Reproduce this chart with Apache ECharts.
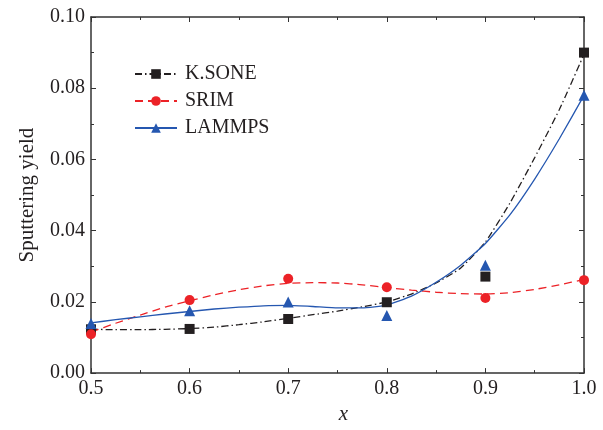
<!DOCTYPE html>
<html>
<head>
<meta charset="utf-8">
<script src="https://cdn.jsdelivr.net/npm/echarts@6/dist/echarts.min.js"></script>
<style>
  html, body { margin: 0; padding: 0; background: #fff; }
  #chart { width: 603px; height: 430px; }
</style>
</head>
<body>
<div id="chart"></div>
<script>
// measured points
var xs = [0.5, 0.6, 0.7, 0.8, 0.9, 1.0];
var ksone = [0.0123, 0.0124, 0.0152, 0.0199, 0.0271, 0.0900];
var srim = [0.0109, 0.0205, 0.0265, 0.0241, 0.0211, 0.0261];
var lammps = [0.0139, 0.0175, 0.0200, 0.0162, 0.0303, 0.0780];

// fitted curves
var curveX = [0.5, 0.525, 0.55, 0.575, 0.6, 0.625, 0.65, 0.675, 0.7, 0.725, 0.75,
              0.775, 0.8, 0.825, 0.85, 0.875, 0.9, 0.925, 0.95, 0.975, 1.0];
var ksoneFit = [0.0123, 0.0122, 0.0122, 0.0123, 0.0125, 0.0129, 0.0136, 0.0144, 0.0154, 0.0164, 0.0174,
                0.0186, 0.0200, 0.0222, 0.0253, 0.0295, 0.0368, 0.0478, 0.0605, 0.0740, 0.0895];
var srimFit = [0.0115, 0.0140, 0.0163, 0.0185, 0.0203, 0.0220, 0.0234, 0.0245, 0.0252, 0.0254, 0.0253,
               0.0248, 0.0240, 0.0233, 0.0227, 0.0223, 0.0222, 0.0226, 0.0235, 0.0248, 0.0263];
var lammpsFit = [0.0141, 0.0150, 0.0158, 0.0166, 0.0173, 0.0180, 0.0185, 0.0189, 0.0190, 0.0187, 0.0183,
                 0.0183, 0.0191, 0.0216, 0.0255, 0.0303, 0.0364, 0.0445, 0.0545, 0.0658, 0.0780];

var BLACK = '#231f20', RED = '#ec2227', BLUE = '#2557b0';
var FONT = 'Liberation Serif';

function pairs(x, y) {
    return x.map(function (v, i) { return [v, y[i]]; });
}

var myChart = echarts.init(document.getElementById('chart'));

function fitLine(name, color, type, data, symbol, size) {
    return {
        name: name,
        type: 'line',
        data: data,
        smooth: 0.15,
        showSymbol: false,
        symbol: symbol,
        symbolSize: size,
        silent: true,
        z: 2,
        lineStyle: { color: color, width: 1.3, type: type },
        itemStyle: { color: color, opacity: 1 }
    };
}
function points(name, color, data, symbol, size) {
    return {
        name: name,
        type: 'scatter',
        data: data,
        symbol: symbol,
        symbolSize: size,
        z: 3,
        itemStyle: { color: color, opacity: 1 }
    };
}

var axisLine = { show: true, onZero: false, lineStyle: { color: '#333', width: 1.5 } };

var option = {
    animation: false,
    grid: { left: 91, right: 19, top: 17, bottom: 47, containLabel: false },
    legend: {
        data: ['K.SONE', 'SRIM', 'LAMMPS'],
        orient: 'vertical',
        left: 129,
        top: 59,
        itemWidth: 42,
        itemHeight: 12,
        itemGap: 7,
        textStyle: { fontFamily: FONT, fontSize: 20, color: '#231f20', padding: [0, 0, 0, 3] }
    },
    xAxis: [{
        type: 'value',
        min: 0.5, max: 1.0, interval: 0.1,
        name: 'x',
        nameLocation: 'middle',
        nameGap: 29,
        nameTextStyle: { fontFamily: FONT, fontSize: 21, fontStyle: 'italic', color: '#231f20', padding: [0, 0, 0, 12] },
        axisLine: axisLine,
        axisTick: { inside: true, length: 5, lineStyle: { color: '#333' } },
        minorTick: { show: true, splitNumber: 2, length: 3, lineStyle: { color: '#333' } },
        splitLine: { show: false },
        axisLabel: {
            fontFamily: FONT, fontSize: 20, color: '#231f20', margin: 6,
            formatter: function (v) { return v.toFixed(1); }
        }
    }, {
        type: 'value', position: 'top',
        min: 0.5, max: 1.0, interval: 0.1,
        axisLine: axisLine,
        axisTick: { inside: true, length: 5, lineStyle: { color: '#333' } },
        minorTick: { show: true, splitNumber: 2, length: 3, lineStyle: { color: '#333' } },
        splitLine: { show: false },
        axisLabel: { show: false }
    }],
    yAxis: [{
        type: 'value',
        min: 0, max: 0.1, interval: 0.02,
        name: 'Sputtering yield',
        nameLocation: 'middle',
        nameGap: 53,
        nameTextStyle: { fontFamily: FONT, fontSize: 21, color: '#231f20' },
        axisLine: axisLine,
        axisTick: { inside: true, length: 5, lineStyle: { color: '#333' } },
        minorTick: { show: true, splitNumber: 2, length: 3, lineStyle: { color: '#333' } },
        splitLine: { show: false },
        axisLabel: {
            fontFamily: FONT, fontSize: 20, color: '#231f20', margin: 6,
            formatter: function (v) { return v.toFixed(2); }
        }
    }, {
        type: 'value', position: 'right',
        min: 0, max: 0.1, interval: 0.02,
        axisLine: axisLine,
        axisTick: { inside: true, length: 5, lineStyle: { color: '#333' } },
        minorTick: { show: true, splitNumber: 2, length: 3, lineStyle: { color: '#333' } },
        splitLine: { show: false },
        axisLabel: { show: false }
    }],
    series: [
        fitLine('K.SONE', BLACK, [7, 3, 1.5, 3], pairs(curveX, ksoneFit), 'rect', 10),
        fitLine('SRIM', RED, [8, 5], pairs(curveX, srimFit), 'circle', 10),
        fitLine('LAMMPS', BLUE, 'solid', pairs(curveX, lammpsFit), 'triangle', 11),
        points('K.SONE', BLACK, pairs(xs, ksone), 'rect', 10),
        points('SRIM', RED, pairs(xs, srim), 'circle', 10),
        points('LAMMPS', BLUE, pairs(xs, lammps), 'triangle', 11)
    ]
};

myChart.setOption(option);
window.addEventListener('resize', function () {
    myChart.resize();
});
</script>
</body>
</html>
